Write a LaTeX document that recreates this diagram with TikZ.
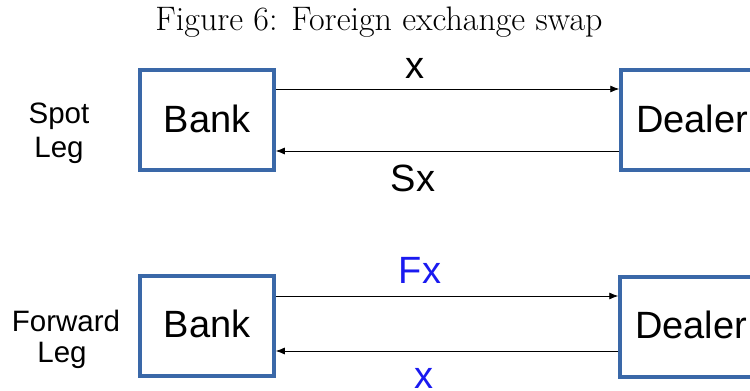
\documentclass[tikz,border=0pt]{standalone}
\usepackage{fontspec}
\newfontfamily\lsans{Liberation Sans}
\usetikzlibrary{arrows.meta}
\definecolor{boxblue}{HTML}{3A68A8}
\definecolor{txtblue}{HTML}{1A1AF0}
\tikzset{
  boxnode/.style={draw=boxblue, line width=3.5pt, fill=white, minimum width=134pt, minimum height=100pt, inner sep=0pt, font=\lsans\fontsize{38}{40}\selectfont},
  dealerbox/.style={boxnode, minimum width=142pt},
  arr/.style={-{Latex[length=9pt,width=7pt]}, line width=0.8pt, black},
  flowlabel/.style={anchor=base, inner sep=0pt, font=\lsans\fontsize{38}{40}\selectfont},
  leglabel/.style={anchor=base, inner sep=0pt, font=\lsans\fontsize{29.5}{32}\selectfont},
}
\begin{document}
\begin{tikzpicture}[x=1pt,y=-1pt]
\useasboundingbox (0,0) rectangle (750,391);
\clip (0,0) rectangle (750,391);
\node[anchor=base, inner sep=0pt, font=\fontsize{34}{40}\selectfont] (title) at (379,30) {Figure 6: Foreign exchange swap};

\node[boxnode] (bank1) at (207,120) {\raisebox{2pt}{Bank}};
\node[dealerbox] (dealer1) at (692,120) {\raisebox{2pt}{Dealer}};
\node[boxnode] (bank2) at (207,326) {\raisebox{5pt}{Bank}};
\node[dealerbox] (dealer2) at (691,327) {\raisebox{4pt}{Dealer}};

\draw[arr] ([yshift=31pt]bank1.east) -- ([yshift=31pt]bank1.east -| dealer1.west);
\draw[arr] ([yshift=-31pt]dealer1.west) -- ([yshift=-31pt]dealer1.west -| bank1.east);
\draw[arr] ([yshift=30pt]bank2.east) -- ([yshift=30pt]bank2.east -| dealer2.west);
\draw[arr] ([yshift=-24pt]dealer2.west) -- ([yshift=-24pt]dealer2.west -| bank2.east);

\node[flowlabel] (x1) at (415,78) {x};
\node[flowlabel] (sx) at (413,191) {Sx};
\node[flowlabel, text=txtblue] (fx) at (420,283) {Fx};
\node[flowlabel, text=txtblue] (x2) at (424,388) {x};

\node[leglabel] (spot) at (59,123) {Spot};
\node[leglabel] (leg1) at (59,157) {Leg};
\node[leglabel] (fwd) at (66,331) {Forward};
\node[leglabel] (leg2) at (62,362) {Leg};
\end{tikzpicture}
\end{document}
